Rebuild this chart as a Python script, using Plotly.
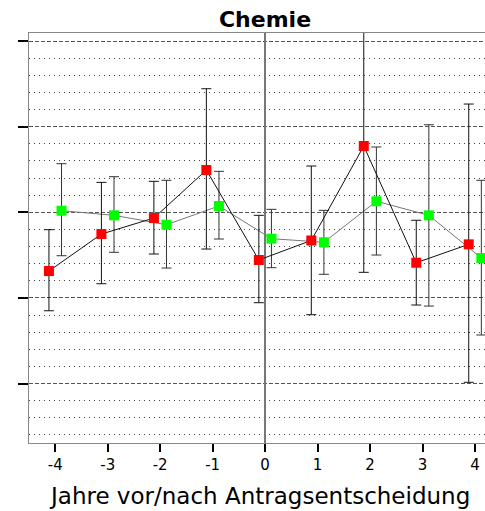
import plotly.graph_objects as go

years = [-4, -3, -2, -1, 0, 1, 2, 3, 4]
tick_labels = ["-4", "-3", "-2", "-1", "0", "1", "2", "3", "4"]

red_mean = [-0.686, -0.254, -0.067, 0.494, -0.557, -0.329, 0.775, -0.589, -0.374]
red_hi = [-0.203, 0.350, 0.362, 1.444, -0.035, 0.541, 2.60, -0.093, 1.265]
red_lo = [-1.150, -0.834, -0.487, -0.429, -1.056, -1.196, -0.701, -1.083, -1.986]

green_mean = [0.019, -0.035, -0.145, 0.074, -0.308, -0.350, 0.129, -0.035, -0.534]
green_hi = [0.568, 0.416, 0.374, 0.479, 0.035, 0.023, 0.763, 1.023, 0.374]
green_lo = [-0.507, -0.467, -0.651, -0.312, -0.647, -0.724, -0.499, -1.095, -1.433]

OFFSET = 0.12
FONT = "DejaVu Sans"

W, H = 485, 511
L, T, B = 29, 33, 511 - 443


def series(mean, hi, lo, shift, mcolor, lcolor, ecolor):
    return go.Scatter(
        x=[y + shift for y in years],
        y=mean,
        mode="lines+markers",
        line=dict(color=lcolor, width=1),
        marker=dict(symbol="square", size=10, color=mcolor, line=dict(width=0)),
        error_y=dict(
            type="data",
            symmetric=False,
            array=[h - m for h, m in zip(hi, mean)],
            arrayminus=[m - l for m, l in zip(mean, lo)],
            color=ecolor,
            thickness=1,
            width=5,
        ),
        showlegend=False,
        hoverinfo="skip",
    )


fig = go.Figure()
fig.add_trace(series(green_mean, green_hi, green_lo, OFFSET, "#00ff00", "#777777", "#333333"))
fig.add_trace(series(red_mean, red_hi, red_lo, -OFFSET, "#ff0000", "#111111", "#111111"))

pw = W - L
ph = H - T - B

fig.update_layout(
    width=W,
    height=H,
    margin=dict(l=L, r=0, t=T, b=B, autoexpand=False),
    paper_bgcolor="white",
    plot_bgcolor="white",
    font=dict(family=FONT, color="black"),
    title=dict(
        text="<b>Chemie</b>",
        font=dict(family=FONT, size=22, color="black"),
        x=(265 - L) / pw,
        xref="paper",
        xanchor="center",
        y=1 - 19 / H,
        yref="container",
        yanchor="middle",
    ),
    xaxis=dict(
        range=[-4.5, 4.19],
        tickmode="array",
        tickvals=years,
        ticktext=tick_labels,
        ticks="outside",
        ticklen=8,
        tickwidth=2,
        tickcolor="black",
        tickfont=dict(family=FONT, size=15, color="black"),
        showgrid=False,
        zeroline=True,
        zerolinecolor="#777777",
        zerolinewidth=2,
        showline=True,
        linecolor="#888888",
        linewidth=1,
        mirror=True,
        automargin=False,
        fixedrange=True,
    ),
    yaxis=dict(
        range=[-2.695, 2.095],
        tick0=0,
        dtick=1,
        ticks="outside",
        ticklen=10,
        tickwidth=2,
        tickcolor="black",
        showticklabels=False,
        showgrid=True,
        gridcolor="#555555",
        gridwidth=1,
        griddash="4px,2px",
        minor=dict(
            dtick=0.2,
            tick0=0,
            showgrid=True,
            gridcolor="#444444",
            gridwidth=1,
            griddash="1px,4px",
            ticks="",
        ),
        zeroline=False,
        showline=True,
        linecolor="#888888",
        linewidth=1,
        automargin=False,
        fixedrange=True,
    ),
    annotations=[
        dict(
            text="Jahre vor/nach Antragsentscheidung",
            xref="paper",
            yref="paper",
            x=(259 - L) / pw,
            y=(443 - 496) / ph,
            xanchor="center",
            yanchor="middle",
            showarrow=False,
            font=dict(family=FONT, size=23, color="black"),
        )
    ],
)

fig.write_html(
    "out.html",
    config={"displayModeBar": False, "staticPlot": True},
    post_script="document.body.style.margin='0';document.body.style.overflow='hidden';",
)
